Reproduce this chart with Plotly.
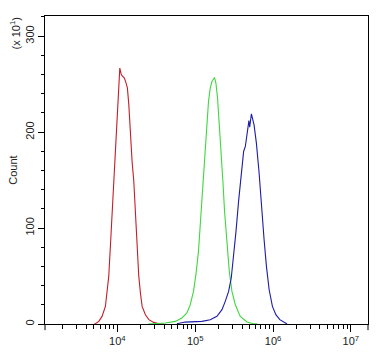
import plotly.graph_objects as go

# log10 of fluorescence intensity and counts (x10^1) for each histogram
red_logx = [3.70, 3.717, 3.761, 3.803, 3.846, 3.867, 3.889, 3.910, 3.932, 3.954, 3.967, 3.983,
            3.996, 4.009, 4.031, 4.051, 4.073, 4.090, 4.112, 4.129, 4.147, 4.167, 4.189,
            4.211, 4.232, 4.254, 4.275, 4.296, 4.318, 4.360, 4.404, 4.468, 4.533, 4.60]
red_count = [0, 0.3, 2.7, 7.9, 18.3, 32.3, 49.6, 80.8, 115.6, 150.3, 169.4, 190.2,
             218, 245.8, 266.7, 259.7, 257.9, 256.3, 251, 245.8, 228.4, 194, 169.4,
             148.5, 115.6, 80.8, 49.6, 32.3, 18.3, 9.7, 4.5, 1.7, 0.3, 0]

green_logx = [4.395, 4.50, 4.614, 4.743, 4.829, 4.893, 4.936, 4.978, 5.009, 5.042, 5.064,
              5.086, 5.107, 5.129, 5.151, 5.171, 5.193, 5.215, 5.248, 5.266, 5.287, 5.309,
              5.335, 5.356, 5.377, 5.408, 5.438, 5.472, 5.515, 5.579, 5.665, 5.734, 5.80]
green_count = [0, 0.5, 1.0, 2.7, 6.3, 11.5, 20.1, 34, 51.4, 75.7, 103.4,
               131.2, 159, 186.8, 211.1, 232, 245.8, 252.7, 256.9, 251, 235.4, 211.1,
               179.9, 148.6, 117.4, 82.6, 54.9, 34.0, 20.1, 7.9, 2.1, 0.5, 0]

blue_logx = [4.764, 4.871, 5.086, 5.193, 5.279, 5.344, 5.386, 5.429, 5.463, 5.493, 5.524,
             5.557, 5.592, 5.622, 5.644, 5.678, 5.690, 5.700, 5.710, 5.722, 5.756, 5.786,
             5.821, 5.850, 5.885, 5.915, 5.950, 5.992, 6.036, 6.087, 6.156, 6.18]
blue_count = [0.3, 2.0, 2.7, 4.5, 8.0, 15.0, 23.6, 34, 47.9, 68.8, 96.5,
              127.8, 155.5, 179.8, 185, 209.3, 212, 205, 213, 219.1, 207.6, 188.5,
              157.3, 122.6, 87.8, 60.1, 35.7, 18.4, 9.7, 4.5, 1.7, 0]

x_tick_vals = [1e4, 1e5, 1e6, 1e7]
x_tick_text = ["10<sup>4</sup>", "10<sup>5</sup>", "10<sup>6</sup>", "10<sup>7</sup>"]
x_minor_vals = [m * 10 ** d for d in range(3, 7) for m in range(2, 10)]
y_tick_vals = [0, 100, 200, 300]
y_tick_text = ["0", "100", "200", "300"]
y_minor_vals = list(range(0, 321, 20))

font = dict(family="Liberation Sans, Arial, sans-serif", size=11, color="#222")

fig = go.Figure()
for lx, cnt, col in [(red_logx, red_count, "#c41e28"),
                     (green_logx, green_count, "#3fd83f"),
                     (blue_logx, blue_count, "#1c1ca8")]:
    fig.add_trace(go.Scatter(x=[10 ** v for v in lx], y=cnt, mode="lines",
                             line=dict(color=col, width=1.1), showlegend=False,
                             hoverinfo="skip"))

fig.update_layout(
    width=386, height=353,
    margin=dict(l=45, r=18, t=16, b=29, autoexpand=False),
    paper_bgcolor="white", plot_bgcolor="white",
    font=font,
    xaxis=dict(type="log", range=[3.07, 7.22], showgrid=False, zeroline=False,
               automargin=False,
               showline=True, linecolor="black", linewidth=1, mirror=True,
               ticks="outside", ticklen=7, tickcolor="black", tickwidth=1,
               tickmode="array", tickvals=x_tick_vals, ticktext=x_tick_text,
               tickfont=font,
               minor=dict(tickmode="array", tickvals=x_minor_vals, ticks="outside",
                          ticklen=4, tickcolor="black", tickwidth=1, showgrid=False)),
    yaxis=dict(range=[0, 321], showgrid=False, zeroline=False,
               automargin=False,
               showline=True, linecolor="black", linewidth=1, mirror=True,
               ticks="outside", ticklen=6, tickcolor="black", tickwidth=1,
               tickmode="array", tickvals=y_tick_vals, ticktext=y_tick_text,
               tickangle=-90, tickfont=font,
               title=dict(text="Count", font=font, standoff=3),
               minor=dict(tickmode="array", tickvals=y_minor_vals, ticks="outside",
                          ticklen=3.5, tickcolor="black", tickwidth=1, showgrid=False)),
    annotations=[dict(text="(x 10<sup>1</sup>)", textangle=-90, xref="paper", yref="paper",
                      x=-0.093, y=0.943, xanchor="center", yanchor="middle",
                      showarrow=False, font=font)],
    shapes=[dict(type="line", xref="paper", yref="paper", x0=0, x1=0, y0=0, y1=-0.02,
                 line=dict(color="black", width=1)),
            dict(type="line", xref="paper", yref="paper", x0=1, x1=1, y0=0, y1=-0.02,
                 line=dict(color="black", width=1))],
)

# remove the default 8px page margin so the 386x353 figure fills the window exactly
fig.write_html("out.html", config={"displayModeBar": False},
               post_script="document.body.style.margin='0px';")
